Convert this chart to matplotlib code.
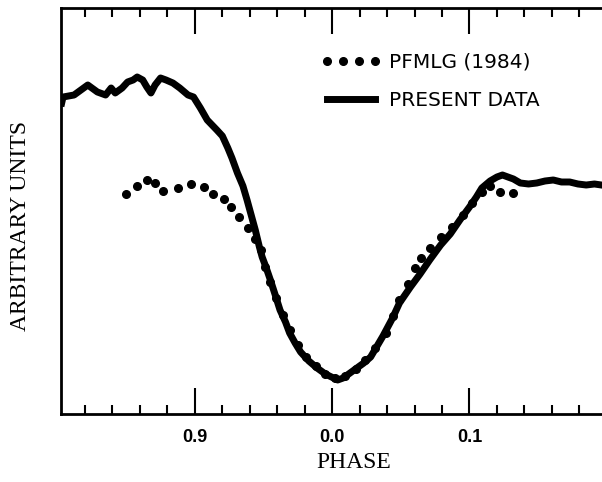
import matplotlib
matplotlib.use("Agg")
import matplotlib.pyplot as plt
import numpy as np

# present data light curve (phase, arbitrary units)
present_phase = [0.803, 0.804, 0.812, 0.817, 0.822, 0.829, 0.835, 0.839, 0.842, 0.847,
                 0.851, 0.855, 0.858, 0.862, 0.865, 0.868, 0.871, 0.875, 0.879, 0.884,
                 0.889, 0.895, 0.899, 0.904, 0.909, 0.916, 0.920, 0.924, 0.927, 0.931,
                 0.935, 0.938, 0.941, 0.944, 0.947, 0.949, 0.952, 0.955, 0.959, 0.962,
                 0.966, 0.969, 0.973, 0.977, 0.983, 0.989, 0.995, 1.001, 1.004, 1.008,
                 1.013, 1.018, 1.023, 1.028, 1.031, 1.037, 1.044, 1.049, 1.057, 1.064,
                 1.071, 1.079, 1.086, 1.093, 1.100, 1.105, 1.109, 1.115, 1.120, 1.124,
                 1.128, 1.132, 1.137, 1.143, 1.149, 1.155, 1.161, 1.167, 1.173, 1.179,
                 1.185, 1.191, 1.196]
present_flux = [311, 317, 319, 324, 329, 322, 319, 326, 321, 326,
                332, 334, 337, 334, 327, 321, 329, 336, 334, 331,
                326, 319, 317, 306, 294, 284, 278, 266, 256, 241,
                228, 214, 199, 184, 167, 157, 146, 134, 117, 104,
                92, 81, 71, 62, 53, 46, 40, 36, 34, 36,
                41, 46, 51, 57, 64, 78, 96, 111, 127, 140,
                154, 169, 180, 194, 207, 217, 226, 233, 237, 239,
                237, 235, 231, 230, 231, 233, 234, 232, 232, 230,
                229, 230, 229]

# PFMLG (1984)
pfmlg_phase = [0.850, 0.858, 0.865, 0.871, 0.877, 0.888, 0.897, 0.907, 0.913, 0.921,
               0.926, 0.932, 0.939, 0.944, 0.948, 0.951, 0.955, 0.959, 0.964, 0.969,
               0.975, 0.981, 0.988, 0.995, 1.002, 1.009, 1.017, 1.024, 1.031, 1.039,
               1.044, 1.049, 1.055, 1.060, 1.065, 1.071, 1.079, 1.087, 1.095, 1.102,
               1.109, 1.115, 1.122, 1.132]
pfmlg_flux = [220, 228, 234, 231, 223, 226, 230, 227, 220, 215,
              207, 197, 186, 175, 164, 147, 132, 116, 99, 84,
              69, 57, 48, 40, 36, 38, 45, 54, 66, 81,
              98, 114, 130, 146, 156, 166, 177, 187, 199, 211,
              222, 228, 222, 221]

major_ticks = [0.9, 1.0, 1.1]
major_labels = ["0.9", "0.0", "0.1"]

fig = plt.figure(figsize=(6.02, 4.82), dpi=100)
ax = fig.add_axes([61/602, 68/482, 541/602, 406/482])

ax.plot(pfmlg_phase, pfmlg_flux, "o", color="black", ms=5.5, label="PFMLG (1984)")
ax.plot(present_phase, present_flux, "-", color="black", lw=5,
        solid_joinstyle="round", label="PRESENT DATA")

ax.set_xlim(0.8025, 1.1965)
ax.set_ylim(0, 406)

ax.set_xticks(major_ticks)
ax.set_xticklabels(major_labels, fontfamily="Liberation Sans", fontweight="bold", fontsize=13)
minor = [t for t in np.round(np.arange(0.82, 1.19, 0.02), 2) if t not in major_ticks]
ax.set_xticks(minor, minor=True)
ax.set_yticks([])
ax.tick_params(axis="x", which="both", direction="in", top=True, bottom=True, width=1.5)
ax.tick_params(axis="x", which="major", length=19, pad=11)
ax.tick_params(axis="x", which="minor", length=6.5)

for s in ["left", "top", "bottom"]:
    ax.spines[s].set_linewidth(2)
ax.spines["right"].set_visible(False)

ax.set_xlabel("PHASE", fontfamily="Liberation Serif", fontsize=17)
ax.xaxis.set_label_coords(0.542, -0.093)
ax.set_ylabel("ARBITRARY UNITS", fontfamily="Liberation Serif", fontsize=17)
ax.yaxis.set_label_coords(-0.056, 0.464)

ax.legend(loc="upper left", bbox_to_anchor=(0.48, 0.89), frameon=False,
          prop={"family": "DejaVu Sans", "size": 14.5}, handlelength=3.0,
          numpoints=4, labelspacing=0.95, borderpad=0, borderaxespad=0, handletextpad=0.4)

fig.savefig("out.png", dpi=100)
